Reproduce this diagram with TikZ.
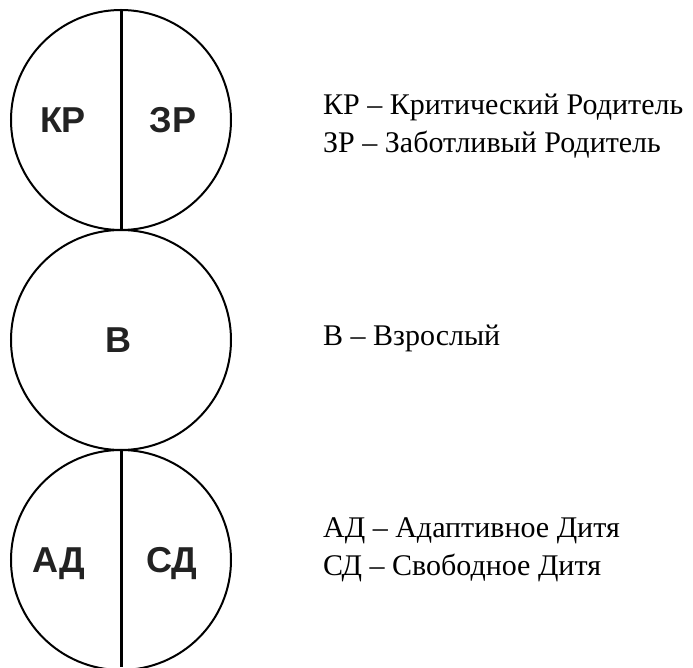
\documentclass[tikz,border=0pt]{standalone}
\usepackage{fontspec}
\setmainfont{Liberation Serif}
\newfontfamily\labfont{Liberation Sans}
\definecolor{labgray}{HTML}{222222}
\begin{document}
\begin{tikzpicture}[x=1pt,y=1pt,
  ring/.style={circle, draw, line width=2pt, minimum size=220pt, inner sep=0pt, outer sep=0pt},
  divider/.style={line width=3pt},
  abbr/.style={font=\labfont\bfseries\fontsize{36}{40}\selectfont, text=labgray, anchor=base, inner sep=0pt},
  legend/.style={font=\fontsize{30}{36}\selectfont, anchor=base west, inner sep=0pt}]
\useasboundingbox (0,0) rectangle (693,667);
% circles
\node[ring] (c1) at (121,547) {};
\node[ring] (c2) at (121,327) {};
\node[ring] (c3) at (121,107) {};
\coordinate (bot) at (121,0);
% dividers
\draw[divider] (c1.north) -- (c1.south);
\draw[divider] (c3.north) -- (bot);
% abbreviations
\node[abbr] (kp) at (63,534) {КР};
\node[abbr] (zp) at (173,534) {ЗР};
\node[abbr] (b) at (118,314) {В};
\node[abbr] (ad) at (59,95) {АД};
\node[abbr] (sd) at (172,95) {СД};
% legend
\node[legend] (l1) at (323,552) {КР – Критический Родитель};
\node[legend] (l2) at (323,514) {ЗР – Заботливый Родитель};
\node[legend] (l3) at (323,321) {В – Взрослый};
\node[legend] (l4) at (323,130) {АД – Адаптивное Дитя};
\node[legend] (l5) at (323,92) {СД – Свободное Дитя};
\end{tikzpicture}
\end{document}
